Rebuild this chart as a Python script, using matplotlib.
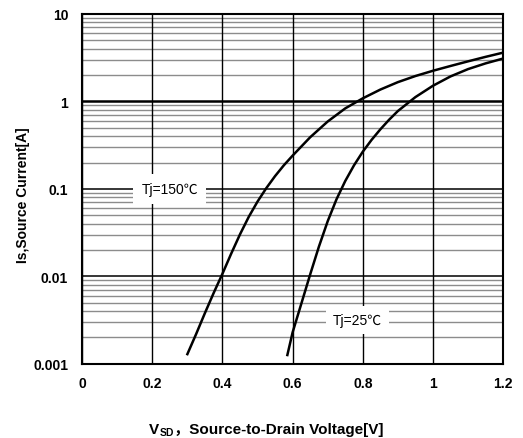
import matplotlib
matplotlib.use("Agg")
import matplotlib.pyplot as plt

# curve readings
v_150 = [0.30, 0.325, 0.35, 0.375, 0.40, 0.425, 0.45, 0.475, 0.50, 0.525, 0.55, 0.575,
         0.60, 0.65, 0.70, 0.75, 0.80, 0.85, 0.90, 0.95, 1.00, 1.05, 1.10, 1.15, 1.20]
i_150 = [0.00129, 0.00219, 0.0038, 0.00646, 0.0107, 0.0182, 0.0302, 0.0479, 0.0716, 0.102, 0.14, 0.186,
         0.24, 0.389, 0.589, 0.832, 1.084, 1.365, 1.66, 1.95, 2.24, 2.54, 2.87, 3.23, 3.61]
v_25 = [0.585, 0.60, 0.625, 0.65, 0.675, 0.70, 0.725, 0.75, 0.775, 0.80, 0.825, 0.85, 0.875,
        0.90, 0.95, 1.00, 1.05, 1.10, 1.15, 1.20]
i_25 = [0.00126, 0.00229, 0.0049, 0.0105, 0.0219, 0.0427, 0.0759, 0.123, 0.186, 0.266, 0.363, 0.479, 0.617,
        0.776, 1.12, 1.51, 1.93, 2.34, 2.72, 3.09]

x_ticks = [0, 0.2, 0.4, 0.6, 0.8, 1.0, 1.2]
x_labels = ['0', '0.2', '0.4', '0.6', '0.8', '1', '1.2']
y_ticks = [0.001, 0.01, 0.1, 1, 10]
y_labels = ['0.001', '0.01', '0.1', '1', '10']

FONT = ['Liberation Sans', 'Noto Sans CJK SC', 'DejaVu Sans']
plt.rcParams['font.family'] = FONT

fig = plt.figure(figsize=(5.23, 4.39), dpi=100)
ax = fig.add_axes([0.157, 0.169, 0.805, 0.797])
ax.set_yscale('log')
ax.set_xlim(0, 1.2)
ax.set_ylim(0.001, 10)

# grid: gray minor decades, black majors
for d in [0.001, 0.01, 0.1, 1]:
    for m in range(2, 10):
        ax.axhline(d * m, color='#8c8c8c', lw=1.0, zorder=0.5)
for d in y_ticks:
    ax.axhline(d, color='black', lw=1.8 if d == 1 else 1.1, zorder=0.6)
for x in x_ticks:
    ax.axvline(x, color='black', lw=1.0, zorder=0.6)

ax.plot(v_150, i_150, color='black', lw=1.8, zorder=2)
ax.plot(v_25, i_25, color='black', lw=1.8, zorder=2)

ax.text(0.25, 0.1, 'Tj=150℃', fontsize=10, ha='center', va='center', zorder=3,
        bbox=dict(facecolor='white', edgecolor='none', pad=6))
ax.text(0.785, 0.0032, 'Tj=25℃', fontsize=10, ha='center', va='center', zorder=3,
        bbox=dict(facecolor='white', edgecolor='none', pad=5))

ax.set_xticks(x_ticks)
ax.set_xticklabels(x_labels, fontweight='bold', fontsize=10)
ax.set_yticks(y_ticks)
ax.set_yticklabels(y_labels, fontweight='bold', fontsize=10)
ax.yaxis.set_minor_locator(matplotlib.ticker.NullLocator())
ax.tick_params(length=0)
ax.tick_params(axis='y', pad=10)
ax.tick_params(axis='x', pad=9)
for s in ax.spines.values():
    s.set_linewidth(1.5)
    s.set_zorder(4)

fig.text(23 / 523, 1 - 195 / 439, 'Is,Source Current[A]', rotation=90,
         ha='center', va='center', fontsize=10, fontweight='bold')

# x label: V + subscript SD + rest
t1 = fig.text(149 / 523, 1 - 434 / 439, 'V', ha='left', va='baseline',
              fontsize=11, fontweight='bold')
t2 = ax.annotate('SD', xy=(1, 0), xycoords=t1, xytext=(0.5, -1), textcoords='offset pixels',
                 ha='left', va='bottom', fontsize=7.5, fontweight='bold')
ax.annotate('，Source-to-Drain Voltage[V]', xy=(1, 0), xycoords=(t2, t1),
            xytext=(0, 0), textcoords='offset pixels',
            ha='left', va='bottom', fontsize=11, fontweight='bold')

fig.savefig('out.png', dpi=100)
